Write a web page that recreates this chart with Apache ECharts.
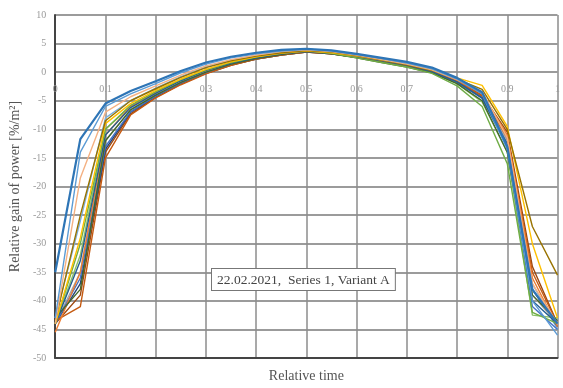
<!DOCTYPE html>
<html><head><meta charset="utf-8">
<script src="https://cdn.jsdelivr.net/npm/echarts@6/dist/echarts.min.js"></script>
<style>html,body{margin:0;padding:0;background:#fff}#c{width:563px;height:388px}</style>
</head><body><div id="c"></div>
<script>
const xValues = [0,0.05,0.1,0.15,0.2,0.25,0.3,0.35,0.4,0.45,0.5,0.55,0.6,0.65,0.7,0.75,0.8,0.85,0.9,0.95,1];
const xTickLabels = ['0','0.1','','0.3','0.4','0.5','0.6','0.7','','0.9','1'];
const yTickLabels = ['10','5','0','-5','-10','-15','-20','-25','-30','-35','-40','-45','-50'];
const annotation = '22.02.2021,  Series 1, Variant A';

const s16 = [-43,-26,-8,-5.0,-2.8,-0.8,0.9,2.1,2.9,3.5,3.9,3.6,3.0,2.3,1.5,0.5,-1.3,-3.9,-12,-37,-45];
const s15 = [-44,-39,-14,-7.3,-4.4,-2.1,-0.2,1.2,2.3,3.0,3.5,3.2,2.6,1.9,1.2,0.2,-1.5,-4.0,-10.5,-34,-44];
const s14 = [-44,-37,-13.5,-7.0,-4.3,-2.0,-0.2,1.3,2.3,3.0,3.5,3.2,2.6,1.9,1.1,0.0,-1.8,-4.4,-12.5,-38,-44.5];
const s13 = [-44,-32,-10,-6.0,-3.5,-1.4,0.3,1.6,2.6,3.3,3.7,3.3,2.6,1.8,1.0,0.0,-2.0,-5.2,-14,-42.5,-43];
const s12 = [-44,-35,-12,-6.5,-3.9,-1.7,0.1,1.5,2.5,3.2,3.6,3.3,2.7,2.0,1.2,0.2,-1.6,-4.3,-12,-39,-44];
const s11 = [-44,-36,-13,-6.9,-4.2,-1.9,-0.1,1.3,2.4,3.1,3.6,3.3,2.7,1.9,1.1,0.0,-1.8,-4.6,-13,-41,-45];
const s10 = [-43.5,-41,-15,-7.5,-4.5,-2.2,-0.3,1.2,2.3,3.0,3.5,3.2,2.6,1.9,1.1,0.1,-1.6,-4.2,-11.5,-35,-44];
const s9 = [-45.5,-35,-11,-6.0,-3.6,-1.4,0.3,1.6,2.5,3.2,3.7,3.4,2.8,2.1,1.3,0.3,-1.4,-3.8,-11,-36,-44.5];
const s8 = [-43,-38,-12,-6.6,-4.0,-1.8,0.0,1.4,2.4,3.1,3.6,3.2,2.5,1.7,0.9,-0.1,-2.0,-5.0,-14,-39,-43.5];
const s7 = [-44,-33,-11,-6.2,-3.7,-1.5,0.3,1.6,2.5,3.2,3.6,3.3,2.7,2.0,1.2,0.1,-1.7,-4.5,-13,-40,-44];
const s6 = [-44,-30,-10,-5.8,-3.4,-1.3,0.4,1.7,2.7,3.4,3.8,3.3,2.5,1.7,0.9,-0.2,-2.4,-6.0,-16,-42,-44];
const s5 = [-44,-29,-9,-5.5,-3.2,-1.2,0.5,1.8,2.7,3.3,3.7,3.4,2.8,2.1,1.4,0.5,-1.0,-2.3,-9.5,-30,-43];
const s4 = [-43.5,-25,-8.5,-5.0,-2.9,-0.9,0.8,2.0,2.8,3.4,3.8,3.5,2.9,2.1,1.3,0.3,-1.2,-3.0,-10,-27,-35.5];
const s3 = [-44,-18.5,-7,-4.3,-2.4,-0.5,1.1,2.2,3.0,3.6,3.9,3.6,3.0,2.2,1.4,0.4,-1.3,-3.4,-11.5,-37,-44];
const s2 = [-43,-14,-6,-3.8,-2.0,-0.1,1.4,2.5,3.2,3.7,4.0,3.7,3.1,2.4,1.6,0.6,-1.2,-3.8,-13.5,-40,-46];
const s1 = [-35,-11.7,-5.5,-3.3,-1.6,0.2,1.7,2.7,3.4,3.9,4.1,3.8,3.2,2.5,1.8,0.8,-1.0,-3.5,-13,-38,-44];

const seriesList = [s16,s15,s14,s13,s12,s11,s10,s9,s8,s7,s6,s5,s4,s3,s2,s1];
const colors = ['#7CAFDD','#9E480E','#264478','#8CC168','#A5A5A5','#4472C4','#C55A11','#ED7D31','#43682B','#255E91','#70AD47','#FFC000','#997300','#F4B183','#5B9BD5','#2E75B6'];

const serif = "'Liberation Serif','Times New Roman',serif";
const Y_MIN = -50, Y_MAX = 10;
const GRID = {left:53, top:15, right:0, bottom:22};
const gridHeight = 388 - GRID.top - GRID.bottom;
const zeroOffset = -gridHeight * (Y_MAX - 0) / (Y_MAX - Y_MIN);

const chart = echarts.init(document.getElementById('c'));
chart.setOption({
  animation:false,
  grid:GRID,
  xAxis:[{
    type:'value',min:0,max:1,interval:0.1,position:'bottom',
    axisLine:{show:true,onZero:false,lineStyle:{color:'#444',width:2}},
    axisTick:{show:false},axisLabel:{show:false},
    splitLine:{show:true,lineStyle:{color:'#8c8c8c',width:1.5}},
    name:'Relative time',nameLocation:'middle',nameGap:11,
    nameTextStyle:{color:'#555',fontFamily:serif,fontSize:14}
  },{
    type:'value',min:0,max:1,interval:0.1,position:'top',offset:zeroOffset,
    axisLine:{show:false,onZero:false},
    axisTick:{show:false},splitLine:{show:false},
    axisLabel:{inside:true,color:'#9a9a9a',fontFamily:serif,fontSize:10,margin:11,
      formatter:(v)=>{const i=Math.round(v*10);return xTickLabels[i]||'';}}
  }],
  yAxis:{
    type:'value',min:Y_MIN,max:Y_MAX,interval:5,
    axisLine:{show:true,onZero:false,lineStyle:{color:'#444',width:2}},
    axisTick:{show:false},
    axisLabel:{color:'#9a9a9a',fontFamily:serif,fontSize:10,margin:9,
      formatter:(v)=>{const i=Math.round((10-v)/5);return yTickLabels[i];}},
    splitLine:{show:true,lineStyle:{color:'#7a7a7a',width:1.5}},
    name:'Relative gain of power [%/m²]',nameLocation:'middle',nameGap:32,
    nameTextStyle:{color:'#555',fontFamily:serif,fontSize:14}
  },
  series:seriesList.map((arr,i)=>({
    type:'line',xAxisIndex:0,showSymbol:false,
    data:arr.map((v,j)=>[xValues[j],v]),
    lineStyle:{color:colors[i],width:i===seriesList.length-1?2.2:1.4},
    itemStyle:{color:colors[i]},
    z:2+i
  })),
  graphic:[{
    type:'text',left:211,top:268,z:100,
    style:{text:annotation,font:"13.5px 'Liberation Serif','Times New Roman',serif",fill:'#444',
      backgroundColor:'#fff',borderColor:'#777',borderWidth:1,padding:[4,5,3,5]}
  }]
});
</script></body></html>
